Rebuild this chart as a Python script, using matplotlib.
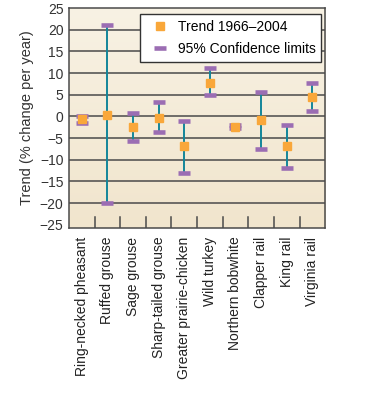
import numpy as np
import matplotlib.pyplot as plt
from matplotlib.lines import Line2D
from matplotlib.colors import LinearSegmentedColormap

plt.rcParams["font.family"] = ["Liberation Sans", "DejaVu Sans"]

species = ["Ring-necked pheasant", "Ruffed grouse", "Sage grouse",
           "Sharp-tailed grouse", "Greater prairie-chicken", "Wild turkey",
           "Northern bobwhite", "Clapper rail", "King rail", "Virginia rail"]
trend = [-0.7, 0.4, -2.5, -0.3, -6.9, 7.8, -2.4, -0.8, -6.9, 4.4]
ci_upper = [0.0, 21.0, 0.7, 3.3, -1.0, 11.1, -2.0, 5.7, -2.1, 7.7]
ci_lower = [-1.5, -20.0, -5.8, -3.5, -13.1, 4.9, -2.7, -7.6, -12.0, 1.2]
yticks = [25, 20, 15, 10, 5, 0, -5, -10, -15, -20, -25]

TEAL = "#13869a"
ORANGE = "#f9a73a"
PURPLE = "#9b6db3"
GRID = "#4a4a4a"

fig = plt.figure(figsize=(3.75, 4.01), dpi=100)
ax = fig.add_axes([0.184, 0.431, 0.683, 0.549])

# beige background, slightly lighter at the top
grad = np.linspace(0, 1, 100).reshape(-1, 1)
cmap = LinearSegmentedColormap.from_list("bg", ["#f8f2e4", "#f1e5cd"])
ax.imshow(grad, extent=[0, 1, 0, 1], transform=ax.transAxes, aspect="auto",
          cmap=cmap, zorder=0)

x = np.arange(len(species))
ax.set_xlim(-0.5, len(species) - 0.5)
ax.set_ylim(-25.8, 25)

for y in yticks[1:-1]:
    ax.axhline(y, color=GRID, lw=1.1, zorder=1)

ax.vlines(x, ci_lower, ci_upper, color=TEAL, lw=1.4, zorder=2)
ax.plot(x, ci_upper, ls="none", marker="_", ms=9, mew=3.3, color=PURPLE, zorder=3)
ax.plot(x, ci_lower, ls="none", marker="_", ms=9, mew=3.3, color=PURPLE, zorder=3)
ax.plot(x, trend, ls="none", marker="s", ms=6, color=ORANGE, zorder=4)

# category divider ticks along the bottom
for b in np.arange(0.5, len(species) - 0.5, 1):
    ax.plot([b, b], [-25.8, -23.3], color=GRID, lw=1.1, zorder=1)

ax.set_yticks(yticks)
ax.set_yticklabels([str(v).replace("-", "\u2212") for v in yticks])
ax.tick_params(axis="y", length=0, labelsize=10, pad=4, colors="#333333")
ax.set_xticks(x)
ax.set_xticklabels(species, rotation=90, fontsize=10, color="#222222")
ax.tick_params(axis="x", length=0, pad=6)
for s in ax.spines.values():
    s.set_color(GRID)
    s.set_linewidth(1.1)
ax.set_ylabel("Trend (% change per year)", fontsize=10.5, color="#333333", labelpad=4)

handles = [
    Line2D([], [], ls="none", marker="s", ms=6, color=ORANGE),
    Line2D([], [], ls="none", marker="_", ms=9, mew=3.3, color=PURPLE),
]
leg = ax.legend(handles, ["Trend 1966\u20132004", "95% Confidence limits"],
                loc="upper right", bbox_to_anchor=(0.995, 0.985), fontsize=10,
                frameon=True, fancybox=False, framealpha=1, borderpad=0.4,
                handletextpad=0.3, labelspacing=0.6, borderaxespad=0.2)
leg.get_frame().set_edgecolor("#333333")
leg.get_frame().set_linewidth(1.0)

fig.savefig("out.png", dpi=100)
